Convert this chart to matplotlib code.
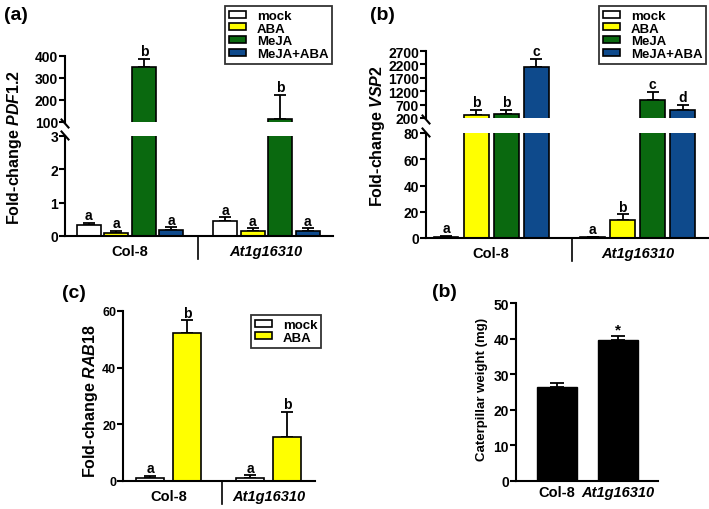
import numpy as np
import matplotlib
matplotlib.use("Agg")
import matplotlib.pyplot as plt
from matplotlib.patches import Patch
from matplotlib.lines import Line2D
from matplotlib.transforms import blended_transform_factory

# ---- data ----
groups = ["Col-8", "At1g16310"]
treatments = ["mock", "ABA", "MeJA", "MeJA+ABA"]
treat_colors = ["#ffffff", "#ffff00", "#0a690f", "#0e4a8c"]

pdf12_mean = np.array([[0.33, 0.10, 352, 0.17], [0.45, 0.15, 115, 0.15]])
pdf12_err = np.array([[0.06, 0.06, 34, 0.09], [0.11, 0.08, 108, 0.08]])
pdf12_letters = [["a", "a", "b", "a"], ["a", "a", "b", "a"]]

vsp2_mean = np.array([[1.0, 300, 335, 2085], [0.8, 14, 890, 483]])
vsp2_err = np.array([[0.4, 210, 175, 330], [0.3, 4, 295, 210]])
vsp2_letters = [["a", "b", "b", "c"], ["a", "b", "c", "d"]]

rab18_mean = np.array([[1.0, 52.4], [1.2, 15.6]])
rab18_err = np.array([[0.8, 4.3], [0.8, 8.9]])
rab18_letters = [["a", "b"], ["a", "b"]]

weight_mean = [26.5, 39.7]
weight_err = [0.9, 0.9]
weight_marks = ["", "*"]

FIG_W, FIG_H = 709, 510

plt.rcParams["font.family"] = ["Liberation Sans", "DejaVu Sans"]
plt.rcParams["font.weight"] = "bold"
plt.rcParams["axes.linewidth"] = 1.5
plt.rcParams["mathtext.fontset"] = "custom"
plt.rcParams["mathtext.it"] = "Liberation Sans:italic:bold"
plt.rcParams["mathtext.rm"] = "Liberation Sans:bold"
plt.rcParams["mathtext.bf"] = "Liberation Sans:bold"


def box(x0, y0, x1, y1):
    return [x0 / FIG_W, 1 - y1 / FIG_H, (x1 - x0) / FIG_W, (y1 - y0) / FIG_H]


def style_axis(ax, bottom=True, size=10):
    ax.spines["top"].set_visible(False)
    ax.spines["right"].set_visible(False)
    ax.spines["bottom"].set_visible(bottom)
    ax.tick_params(axis="y", length=4, width=1.5, labelsize=size, pad=1)
    ax.tick_params(axis="x", length=0, labelsize=10.5, pad=6)
    if not bottom:
        ax.set_xticks([])


def draw_bars(ax, means, errs, colors, step, width):
    n_groups, n_bars = means.shape
    for g in range(n_groups):
        for i in range(n_bars):
            x = g + (i - (n_bars - 1) / 2) * step
            ax.bar(x, means[g, i], width, color=colors[i], edgecolor="black",
                   linewidth=1.2, zorder=2)
            ax.errorbar(x, means[g, i], yerr=[[0], [errs[g, i]]], fmt="none",
                        ecolor="black", elinewidth=1.3, capsize=4, capthick=1.3,
                        zorder=1)


def put_letters(ax, means, errs, letters, step, pick=None):
    n_groups, n_bars = means.shape
    for g in range(n_groups):
        for i in range(n_bars):
            top = means[g, i] + errs[g, i]
            target = ax if pick is None else pick(top)
            x = g + (i - (n_bars - 1) / 2) * step
            target.annotate(letters[g][i], (x, top), xytext=(0, 0.5),
                            textcoords="offset points", ha="center",
                            va="bottom", fontsize=10, fontweight="bold")


def group_labels(ax):
    ax.set_xticks(range(len(groups)))
    ax.set_xticklabels(groups, fontweight="bold")
    ax.get_xticklabels()[1].set_style("italic")


def divider(ax, xd, depth_px):
    h = ax.get_position().height * FIG_H
    tr = blended_transform_factory(ax.transData, ax.transAxes)
    ax.plot([xd, xd], [0, -depth_px / h], transform=tr, clip_on=False,
            color="black", lw=1.2)


def break_marks(fig, ax_up, ax_lo):
    dx, dy = 3.5 / FIG_W, 4 / FIG_H
    p_up, p_lo = ax_up.get_position(), ax_lo.get_position()
    for x, y in [(p_up.x0, p_up.y0 - 1.5 / FIG_H), (p_lo.x0, p_lo.y1 + 0.5 / FIG_H)]:
        fig.add_artist(Line2D([x - dx, x + dx], [y + dy, y - dy],
                              transform=fig.transFigure, color="black", lw=1.5))


def broken_panel(fig, xs, y_up, y_lo, lim_up, lim_lo, ticks_up, ticks_lo,
                 xlim, means, errs, letters, step, width, xdiv):
    ax_up = fig.add_axes(box(xs[0], y_up[0], xs[1], y_up[1]))
    ax_lo = fig.add_axes(box(xs[0], y_lo[0], xs[1], y_lo[1]))
    for ax in (ax_up, ax_lo):
        draw_bars(ax, means, errs, treat_colors, step, width)
        ax.set_xlim(*xlim)
    ax_up.set_ylim(*lim_up)
    ax_lo.set_ylim(*lim_lo)
    ax_up.set_yticks(ticks_up)
    ax_lo.set_yticks(ticks_lo)
    style_axis(ax_up, bottom=False)
    style_axis(ax_lo, bottom=True)
    group_labels(ax_lo)
    put_letters(ax_lo, means, errs, letters, step,
                pick=lambda top: ax_up if top > lim_lo[1] else ax_lo)
    divider(ax_lo, xdiv, 23)
    break_marks(fig, ax_up, ax_lo)
    return ax_up, ax_lo


def legend(fig, labels, colors, x, y):
    handles = [Patch(facecolor=c, edgecolor="black", linewidth=1.2) for c in colors]
    leg = fig.legend(handles, labels, loc="upper left",
                     bbox_to_anchor=(x / FIG_W, 1 - y / FIG_H),
                     frameon=True, fancybox=False, edgecolor="black",
                     fontsize=9.5, handlelength=1.3, handleheight=0.45,
                     labelspacing=0.05, borderpad=0.3, handletextpad=0.8,
                     borderaxespad=0)
    leg.get_frame().set_linewidth(1.3)
    for t in leg.get_texts():
        t.set_fontweight("bold")


def main():
    fig = plt.figure(figsize=(FIG_W / 100, FIG_H / 100), dpi=100)

    # (a) PDF1.2
    broken_panel(fig, (65, 333), (57, 123), (137, 237), (100, 400), (0, 3),
                 [100, 200, 300, 400], [0, 1, 2, 3], (-0.478, 1.49),
                 pdf12_mean, pdf12_err, pdf12_letters, 0.202, 0.176, 0.5)
    fig.text(15 / FIG_W, 1 - 147 / FIG_H, r"Fold-change $\mathit{PDF1.2}$",
             rotation=90, ha="center", va="center", fontsize=11.5)
    legend(fig, treatments, treat_colors, 225, 7)
    fig.text(4 / FIG_W, 1 - 15 / FIG_H, "(a)", fontsize=14, va="center")

    # (b) VSP2
    broken_panel(fig, (426, 708), (52, 119), (134, 239), (200, 2700), (0, 80),
                 [200, 700, 1200, 1700, 2200, 2700], [0, 20, 40, 60, 80],
                 (-0.444, 1.48), vsp2_mean, vsp2_err, vsp2_letters,
                 0.205, 0.17, 0.55)
    fig.text(378 / FIG_W, 1 - 136 / FIG_H, r"Fold-change $\mathit{VSP2}$",
             rotation=90, ha="center", va="center", fontsize=11.5)
    legend(fig, treatments, treat_colors, 599, 7)
    fig.text(370 / FIG_W, 1 - 15 / FIG_H, "(b)", fontsize=14, va="center")

    # (c) RAB18
    ax_c = fig.add_axes(box(123, 312, 315, 482))
    draw_bars(ax_c, rab18_mean, rab18_err, treat_colors[:2], 0.37, 0.28)
    put_letters(ax_c, rab18_mean, rab18_err, rab18_letters, 0.37)
    ax_c.set_xlim(-0.455, 1.465)
    ax_c.set_ylim(0, 60)
    ax_c.set_yticks([0, 20, 40, 60])
    style_axis(ax_c, size=9)
    group_labels(ax_c)
    divider(ax_c, 0.535, 23)
    fig.text(91 / FIG_W, 1 - 401 / FIG_H, r"Fold-change $\mathit{RAB18}$",
             rotation=90, ha="center", va="center", fontsize=11.5)
    legend(fig, treatments[:2], treat_colors[:2], 251, 316)
    fig.text(62 / FIG_W, 1 - 294 / FIG_H, "(c)", fontsize=14, va="center")

    # (b) caterpillar weight
    ax_d = fig.add_axes(box(516, 304, 658, 482))
    xd = np.arange(len(groups))
    ax_d.bar(xd, weight_mean, 0.66, color="black", edgecolor="black", zorder=2)
    ax_d.errorbar(xd, weight_mean, yerr=[np.zeros(2), weight_err], fmt="none",
                  ecolor="black", elinewidth=1.3, capsize=5, capthick=1.3, zorder=1)
    for x, m, e, s in zip(xd, weight_mean, weight_err, weight_marks):
        ax_d.annotate(s, (x, m + e), xytext=(0, 0), textcoords="offset points",
                      ha="center", va="bottom", fontsize=11, fontweight="bold")
    ax_d.set_xlim(-0.67, 1.66)
    ax_d.set_ylim(0, 50)
    ax_d.set_yticks(range(0, 51, 10))
    style_axis(ax_d)
    ax_d.tick_params(axis="x", pad=3)
    group_labels(ax_d)
    fig.text(482 / FIG_W, 1 - 389 / FIG_H, "Caterpillar weight (mg)",
             rotation=90, ha="center", va="center", fontsize=9.5)
    fig.text(432 / FIG_W, 1 - 293 / FIG_H, "(b)", fontsize=14, va="center")

    fig.savefig("out.png", dpi=100)


if __name__ == "__main__":
    main()
